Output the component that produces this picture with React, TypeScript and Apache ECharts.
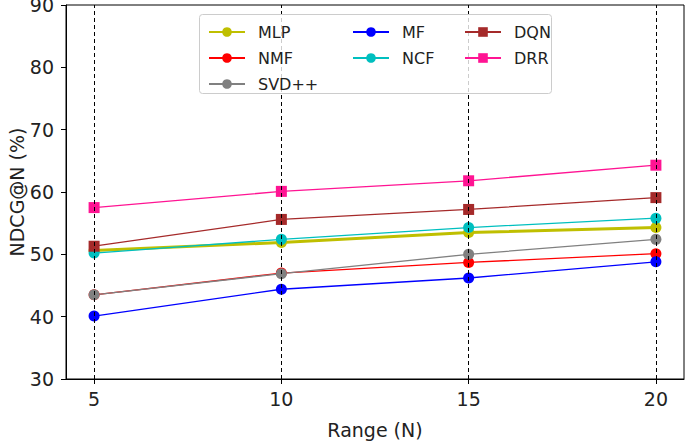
import React, { useEffect, useRef } from "react";
import * as echarts from "echarts";

const rangeN = [5, 10, 15, 20];
const xTickLabels = [5, 10, 15, 20];
const methods = ["MLP", "NMF", "SVD++", "MF", "NCF", "DQN", "DRR"];
const mlp = [50.6, 51.9, 53.5, 54.3];
const nmf = [43.5, 47.0, 48.7, 50.1];
const svdpp = [43.5, 46.9, 50.0, 52.4];
const mf = [40.1, 44.4, 46.2, 48.8];
const ncf = [50.2, 52.4, 54.3, 55.8];
const dqn = [51.3, 55.6, 57.2, 59.1];
const drr = [57.5, 60.1, 61.8, 64.3];

const seriesValues = [mlp, nmf, svdpp, mf, ncf, dqn, drr];
const colors = ["#bfbf00", "#ff0000", "#808080", "#0000ff", "#00bfbf", "#a52a2a", "#ff1493"];
const symbols = ["circle", "circle", "circle", "circle", "circle", "rect", "rect"];
const widths = [3, 1.3, 1.3, 1.3, 1.3, 1.3, 1.3];

const FONT = "DejaVu Sans";

export default function App() {
  const ref = useRef<HTMLDivElement>(null);
  useEffect(() => {
    if (!ref.current) return;
    const chart = echarts.init(ref.current, null, { renderer: "svg" });
    const series: any[] = methods.map((name, i) => ({
      name,
      type: "line",
      z: 3,
      data: rangeN.map((x, j) => [x, seriesValues[i][j]]),
      symbol: symbols[i],
      symbolSize: 11,
      showSymbol: true,
      itemStyle: { color: colors[i] },
      lineStyle: { color: colors[i], width: widths[i] },
      emphasis: { disabled: true },
    }));
    series.unshift({
      name: "__grid",
      type: "line",
      z: 1,
      data: [],
      silent: true,
      markLine: {
        silent: true,
        symbol: ["none", "none"],
        label: { show: false },
        lineStyle: { color: "#000", type: [4, 3], width: 1 },
        emphasis: { disabled: true },
        data: xTickLabels.map((v) => ({ xAxis: v })),
      },
    });
    const legendCommon = {
      orient: "vertical",
      itemWidth: 36,
      itemHeight: 12,
      itemGap: 10,
      selectedMode: false,
      textStyle: {
        fontFamily: FONT,
        fontSize: 16,
        color: "#222",
        lineHeight: 16,
        padding: [0, 0, 0, 8],
      },
      z: 20,
    };
    chart.setOption({
      animation: false,
      backgroundColor: "#fff",
      textStyle: { fontFamily: FONT },
      grid: {
        left: 66,
        right: 1,
        top: 5,
        bottom: 63,
        containLabel: false,
        outerBoundsMode: "none",
        show: true,
        borderColor: "#000",
        borderWidth: 1,
      },
      xAxis: {
        type: "value",
        min: 4.25,
        max: 20.75,
        interval: 0.25,
        name: "Range (N)",
        nameLocation: "middle",
        nameGap: 41,
        nameTextStyle: { fontFamily: FONT, fontSize: 19, color: "#222" },
        axisLine: { show: true, lineStyle: { color: "#000", width: 1 } },
        axisTick: { show: true, length: 5, lineStyle: { color: "#000" }, customValues: xTickLabels },
        axisLabel: {
          fontFamily: FONT,
          fontSize: 19,
          color: "#222",
          margin: 10,
          customValues: xTickLabels,
        },
        splitLine: { show: false },
      },
      yAxis: {
        type: "value",
        min: 30,
        max: 90,
        interval: 10,
        name: "NDCG@N (%)",
        nameLocation: "middle",
        nameGap: 40,
        nameMoveOverlap: false,
        nameTextStyle: { fontFamily: FONT, fontSize: 19, color: "#222" },
        axisLine: { show: true, lineStyle: { color: "#000", width: 1 } },
        axisTick: { show: true, length: 5, lineStyle: { color: "#000" } },
        axisLabel: { fontFamily: FONT, fontSize: 19, color: "#222", margin: 12 },
        splitLine: { show: false },
      },
      legend: [
        { ...legendCommon, left: 203, top: 19, data: ["MLP", "NMF", "SVD++"] },
        { ...legendCommon, left: 347, top: 19, data: ["MF", "NCF"] },
        { ...legendCommon, left: 459, top: 19, data: ["DQN", "DRR"] },
      ],
      graphic: [
        {
          type: "rect",
          z: 10,
          shape: { x: 199.5, y: 14.5, width: 352, height: 79, r: 3 },
          style: { fill: "rgba(255,255,255,0.8)", stroke: "#cccccc", lineWidth: 1 },
          silent: true,
        },
      ],
      series,
    });
    return () => chart.dispose();
  }, []);
  return (
    <div
      ref={ref}
      style={{ position: "fixed", left: 0, top: 0, width: 685, height: 442 }}
    />
  );
}
